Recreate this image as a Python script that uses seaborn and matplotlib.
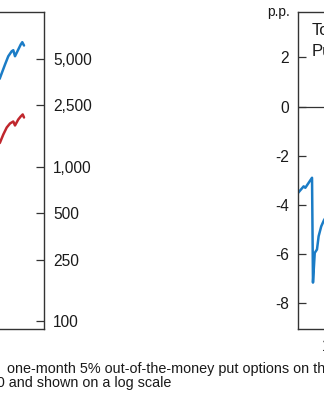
import matplotlib
matplotlib.use("Agg")
import matplotlib.pyplot as plt
import seaborn as sns
from matplotlib.ticker import FixedLocator, NullLocator

# ---- data (visible tail of the left panel, log scale index levels) ----
blue_years = [2021.80, 2021.84, 2022.54, 2023.00, 2023.48, 2023.70, 2023.94, 2024.40, 2024.74, 2024.96, 2025.20]
blue_vals = [3700, 3749, 4572, 5174, 5575, 5659, 5174, 5720, 6160, 6378, 6071]
red_years = [2021.80, 2021.84, 2022.30, 2022.78, 2023.24, 2023.70, 2023.94, 2024.40, 2024.74, 2025.02, 2025.20]
red_vals = [1420, 1431, 1612, 1790, 1901, 1958, 1845, 2018, 2110, 2174, 2078]
left_ticks = [100, 250, 500, 1000, 2500, 5000]
left_ticklabels = ["100", "250", "500", "1,000", "2,500", "5,000"]

# ---- data (visible start of the right panel, percentage points) ----
diff_years = [1986.50, 1986.98, 1987.12, 1987.69, 1987.77, 1987.92, 1988.11, 1988.25, 1988.47, 1988.70, 1989.00]
diff_vals = [-3.52, -3.25, -3.31, -2.90, -7.17, -5.96, -5.82, -5.28, -4.88, -4.63, -4.40]
right_ticks = [-8, -6, -4, -2, 0, 2]
right_xticks = [1990]

BLUE = "#1b7cc6"
RED = "#c0272d"
SPINE = "#333333"
TXT = "#1a1a1a"

sns.set_theme(style="white")
plt.rcParams["font.family"] = ["Liberation Sans", "DejaVu Sans"]

W, H = 324, 400
fig = plt.figure(figsize=(W / 100, H / 100), dpi=100)
fig.patch.set_facecolor("white")

bottom = (H - 329) / H
height = (329 - 12) / H

# ---------- left panel ----------
axL = fig.add_axes([-256 / W, bottom, 300 / W, height])
sns.lineplot(x=blue_years, y=blue_vals, ax=axL, color=BLUE, linewidth=1.8, sort=False)
sns.lineplot(x=red_years, y=red_vals, ax=axL, color=RED, linewidth=1.8, sort=False)
axL.set_yscale("log")
axL.set_ylim(89, 10000)
axL.set_xlim(1986, 2028)
axL.yaxis.set_major_locator(FixedLocator(left_ticks))
axL.set_yticklabels(left_ticklabels)
axL.yaxis.set_minor_locator(NullLocator())
axL.yaxis.tick_right()
axL.set_xticks([])
axL.tick_params(axis="y", which="major", direction="in", length=5.5, width=0.9,
                color=SPINE, pad=6.5, labelsize=11.2, labelcolor=TXT,
                right=True, left=False)
for s in ["top", "right", "bottom"]:
    axL.spines[s].set_color(SPINE)
    axL.spines[s].set_linewidth(1.0)
axL.spines["left"].set_visible(False)
axL.set_xlabel("")
axL.set_ylabel("")

# ---------- right panel ----------
axR = fig.add_axes([298 / W, bottom, 454 / W, height])
axR.axhline(0, color=SPINE, linewidth=0.9, zorder=1)
sns.lineplot(x=diff_years, y=diff_vals, ax=axR, color=BLUE, linewidth=1.8, sort=False)
axR.set_ylim(-9.06, 3.85)
axR.set_xlim(1986.5, 2025)
axR.set_yticks(right_ticks)
axR.set_yticklabels([str(t) for t in right_ticks])
axR.set_xticks(right_xticks)
axR.set_xticklabels([str(t) for t in right_xticks])
axR.tick_params(axis="y", direction="in", length=5.5, width=0.9, color=SPINE,
                pad=6.5, labelsize=11.2, labelcolor=TXT, left=True)
axR.tick_params(axis="x", direction="in", length=5, width=0.9, color=SPINE,
                pad=7, labelsize=11.2, labelcolor=TXT, bottom=True)
for s in ["top", "left", "bottom"]:
    axR.spines[s].set_color(SPINE)
    axR.spines[s].set_linewidth(1.0)
axR.spines["right"].set_visible(False)
axR.set_xlabel("")
axR.set_ylabel("")

fig.text(290 / W, 1 - 16 / H, "p.p.", ha="right", va="baseline", fontsize=10, color=TXT)
fig.text(311.5 / W, 1 - 35 / H, "Total", ha="left", va="baseline", fontsize=12, color=TXT)
fig.text(311.5 / W, 1 - 56 / H, "Put", ha="left", va="baseline", fontsize=12, color=TXT)

# ---------- caption ----------
fig.text(7 / W, 1 - 373.5 / H, "one-month 5% out-of-the-money put options on the",
         ha="left", va="baseline", fontsize=10.4, color=TXT)
fig.text(-19 / W, 1 - 387.5 / H, "500 and shown on a log scale",
         ha="left", va="baseline", fontsize=10.4, color=TXT)

fig.savefig("out.png", dpi=100)
